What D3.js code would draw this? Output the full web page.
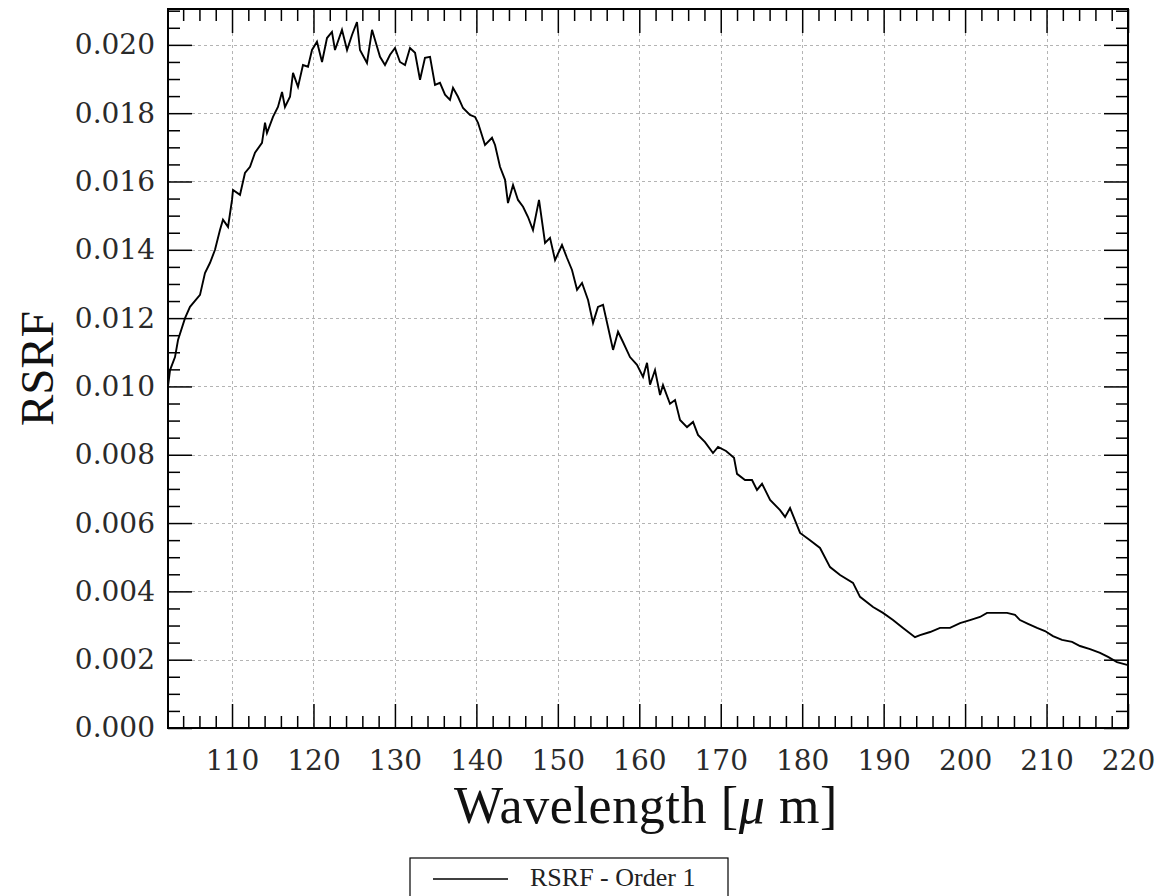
<!DOCTYPE html>
<html>
<head>
<meta charset="utf-8">
<script src="https://cdn.jsdelivr.net/npm/d3@7"></script>
<style>
  body { margin: 0; background: #fff; }
  svg { display: block; }
</style>
</head>
<body>
<svg></svg>
<script>
// Wavelength (um) and RSRF values
const wavelength = [
  102.14, 102.39, 103.00, 103.37, 104.23, 104.84, 106.07, 106.68, 107.30, 107.91,
  108.52, 108.89, 109.51, 110.00, 110.12, 110.98, 111.59, 112.21, 112.82, 113.68,
  114.05, 114.29, 115.03, 115.64, 116.14, 116.50, 117.12, 117.49, 118.10, 118.71,
  119.33, 119.82, 120.43, 121.05, 121.66, 122.27, 122.64, 123.50, 124.12, 124.73,
  125.34, 125.71, 126.57, 127.19, 127.55, 128.17, 128.78, 129.40, 130.01, 130.62,
  131.24, 131.85, 132.47, 133.08, 133.69, 134.31, 134.92, 135.53, 136.15, 136.76,
  137.13, 137.74, 138.36, 139.22, 139.83, 140.20, 141.06, 141.92, 142.29, 142.90,
  143.52, 143.88, 144.50, 145.11, 145.73, 146.34, 146.95, 147.69, 148.43, 149.04,
  149.66, 150.51, 151.13, 151.74, 152.36, 152.97, 153.71, 154.32, 154.93, 155.55,
  156.16, 156.78, 157.39, 158.00, 158.86, 159.72, 160.46, 160.95, 161.32, 161.93,
  162.55, 162.91, 163.77, 164.39, 165.00, 165.86, 166.60, 167.21, 168.07, 169.05,
  169.67, 170.65, 171.63, 172.00, 172.98, 173.84, 174.45, 175.07, 176.06, 177.28,
  177.90, 178.51, 179.74, 180.96, 182.19, 183.42, 184.65, 186.24, 187.10, 188.70,
  189.92, 191.15, 192.38, 193.85, 194.47, 195.70, 196.92, 198.15, 199.38, 200.60,
  201.83, 202.69, 203.92, 205.15, 206.13, 206.74, 207.73, 208.83, 209.81, 210.79,
  211.90, 213.13, 214.11, 215.34, 216.57, 217.55, 218.65, 220.00
];
const rsrf = [
  0.01000, 0.01048, 0.01086, 0.01136, 0.01200, 0.01233, 0.01268, 0.01332, 0.01362, 0.01400,
  0.01458, 0.01488, 0.01467, 0.01546, 0.01575, 0.01561, 0.01625, 0.01643, 0.01684, 0.01713,
  0.01772, 0.01742, 0.01789, 0.01818, 0.01862, 0.01818, 0.01848, 0.01918, 0.01877, 0.01941,
  0.01936, 0.01985, 0.02009, 0.01950, 0.02020, 0.02038, 0.01985, 0.02044, 0.01985, 0.02029,
  0.02067, 0.01985, 0.01947, 0.02044, 0.02015, 0.01965, 0.01941, 0.01971, 0.01991, 0.01950,
  0.01941, 0.01991, 0.01977, 0.01898, 0.01962, 0.01965, 0.01883, 0.01889, 0.01854, 0.01839,
  0.01874, 0.01848, 0.01815, 0.01795, 0.01789, 0.01772, 0.01707, 0.01728, 0.01707, 0.01643,
  0.01605, 0.01537, 0.01590, 0.01546, 0.01526, 0.01496, 0.01458, 0.01546, 0.01420, 0.01435,
  0.01370, 0.01414, 0.01376, 0.01341, 0.01283, 0.01303, 0.01253, 0.01186, 0.01233, 0.01239,
  0.01174, 0.01107, 0.01160, 0.01130, 0.01086, 0.01063, 0.01028, 0.01069, 0.01005, 0.01048,
  0.00975, 0.01004, 0.00949, 0.00960, 0.00902, 0.00881, 0.00896, 0.00858, 0.00837, 0.00805,
  0.00823, 0.00811, 0.00791, 0.00744, 0.00726, 0.00726, 0.00697, 0.00715, 0.00668, 0.00638,
  0.00618, 0.00644, 0.00571, 0.00550, 0.00527, 0.00471, 0.00448, 0.00425, 0.00384, 0.00354,
  0.00337, 0.00316, 0.00293, 0.00266, 0.00272, 0.00281, 0.00293, 0.00293, 0.00307, 0.00316,
  0.00325, 0.00337, 0.00337, 0.00337, 0.00331, 0.00316, 0.00305, 0.00293, 0.00284, 0.00269,
  0.00258, 0.00252, 0.00240, 0.00231, 0.00220, 0.00208, 0.00193, 0.00184
];
const xTicks = [110, 120, 130, 140, 150, 160, 170, 180, 190, 200, 210, 220];
const yTicks = [0.000, 0.002, 0.004, 0.006, 0.008, 0.010, 0.012, 0.014, 0.016, 0.018, 0.020];
const seriesName = "RSRF - Order 1";

const data = wavelength.map((w, i) => ({ w: w, v: rsrf[i] }));

// plot box
const margin = {top: 9, right: 32, bottom: 168, left: 168},
    width = 1160 - margin.left - margin.right,
    height = 896 - margin.top - margin.bottom;

const svg = d3.select("svg")
  .attr("width", 1160)
  .attr("height", 896);

const g = svg.append("g")
  .attr("transform", `translate(${margin.left},${margin.top})`);

const x = d3.scaleLinear()
  .domain([102.14, 220])
  .range([0, width]);

const y = d3.scaleLinear()
  .domain([0, 0.02105])
  .range([height, 0]);

// minor tick positions
const xMinor = d3.range(104, 220, 2).filter(d => d % 10 !== 0);
const yMinor = d3.range(0.0005, 0.0211, 0.0005).filter(d => Math.abs(d / 0.002 - Math.round(d / 0.002)) > 0.01);

// grid
const grid = g.append("g")
  .attr("stroke", "#b4b4b4")
  .attr("stroke-width", 1)
  .attr("stroke-dasharray", "3,3");
grid.selectAll(".gx")
  .data(xTicks.filter(d => d < 220))
  .join("line")
    .attr("x1", d => Math.round(x(d)) + 0.5)
    .attr("x2", d => Math.round(x(d)) + 0.5)
    .attr("y1", 0)
    .attr("y2", height);
grid.selectAll(".gy")
  .data(yTicks.filter(d => d > 0))
  .join("line")
    .attr("x1", 0)
    .attr("x2", width)
    .attr("y1", d => Math.round(y(d)) + 0.5)
    .attr("y2", d => Math.round(y(d)) + 0.5);

// axes, ticks point inward
function styleAxis(sel) {
  sel.select(".domain").remove();
  sel.selectAll(".tick line").attr("stroke", "#000").attr("stroke-width", 1.5);
  sel.selectAll("text")
    .attr("font-family", "DejaVu Serif")
    .attr("font-size", 28)
    .attr("fill", "#2a2a2a");
}

g.append("g")
  .attr("transform", `translate(0,${height})`)
  .call(d3.axisBottom(x).tickValues(xTicks).tickSizeInner(-24).tickSizeOuter(0).tickPadding(22).tickFormat(d3.format("d")))
  .call(styleAxis);
g.append("g")
  .attr("transform", `translate(0,${height})`)
  .call(d3.axisBottom(x).tickValues(xMinor).tickSizeInner(-12).tickSizeOuter(0).tickFormat(""))
  .call(styleAxis);
g.append("g")
  .call(d3.axisTop(x).tickValues(xTicks).tickSizeInner(-24).tickSizeOuter(0).tickFormat(""))
  .call(styleAxis);
g.append("g")
  .call(d3.axisTop(x).tickValues(xMinor).tickSizeInner(-12).tickSizeOuter(0).tickFormat(""))
  .call(styleAxis);

g.append("g")
  .call(d3.axisLeft(y).tickValues(yTicks).tickSizeInner(-24).tickSizeOuter(0).tickPadding(13).tickFormat(d3.format(".3f")))
  .call(styleAxis);
g.append("g")
  .call(d3.axisLeft(y).tickValues(yMinor).tickSizeInner(-12).tickSizeOuter(0).tickFormat(""))
  .call(styleAxis);
g.append("g")
  .attr("transform", `translate(${width},0)`)
  .call(d3.axisRight(y).tickValues(yTicks).tickSizeInner(-24).tickSizeOuter(0).tickFormat(""))
  .call(styleAxis);
g.append("g")
  .attr("transform", `translate(${width},0)`)
  .call(d3.axisRight(y).tickValues(yMinor).tickSizeInner(-12).tickSizeOuter(0).tickFormat(""))
  .call(styleAxis);

// the curve
g.append("path")
  .datum(data)
  .attr("fill", "none")
  .attr("stroke", "#000")
  .attr("stroke-width", 1.9)
  .attr("stroke-linejoin", "miter")
  .attr("d", d3.line().x(d => x(d.w)).y(d => y(d.v)));

// frame
g.append("rect")
  .attr("width", width)
  .attr("height", height)
  .attr("fill", "none")
  .attr("stroke", "#000")
  .attr("stroke-width", 2);

// axis titles
const xTitle = svg.append("text")
  .attr("x", 646)
  .attr("y", 823)
  .attr("text-anchor", "middle")
  .attr("font-family", "Liberation Serif")
  .attr("font-size", 52)
  .attr("letter-spacing", 0.6)
  .attr("fill", "#111");
xTitle.append("tspan").text("Wavelength [");
xTitle.append("tspan").attr("font-style", "italic").text("\u03bc");
xTitle.append("tspan").text(" m]");

svg.append("text")
  .attr("transform", `translate(53,${margin.top + height / 2}) rotate(-90)`)
  .attr("text-anchor", "middle")
  .attr("font-family", "Liberation Serif")
  .attr("font-size", 47)
  .attr("fill", "#111")
  .text("RSRF");

// legend
const legend = svg.append("g").attr("transform", "translate(410,858)");
legend.append("rect")
  .attr("width", 318)
  .attr("height", 60)
  .attr("fill", "#fff")
  .attr("stroke", "#000")
  .attr("stroke-width", 1.2);
legend.append("line")
  .attr("x1", 23).attr("x2", 98)
  .attr("y1", 21).attr("y2", 21)
  .attr("stroke", "#000")
  .attr("stroke-width", 1.5);
legend.append("text")
  .attr("x", 120)
  .attr("y", 28)
  .attr("font-family", "Liberation Serif")
  .attr("font-size", 26)
  .attr("fill", "#222")
  .text(seriesName);
</script>
</body>
</html>
